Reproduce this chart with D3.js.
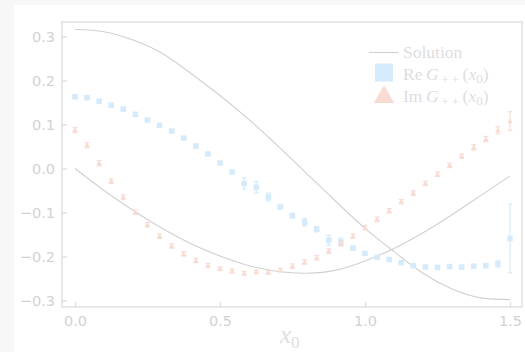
<!DOCTYPE html>
<html>
<head>
<meta charset="utf-8">
<script src="https://cdn.jsdelivr.net/npm/d3@7"></script>
<style>
  html, body { margin: 0; padding: 0; background: #f7f7f7; }
  svg { display: block; }
</style>
</head>
<body>
<div id="chart"></div>
<script>
// Sample positions x0 = 0 .. 1.5 (37 points)
const xs = d3.range(37).map(i => i * 1.5 / 36);

// Re G++(x0) and its errors
const reVals = [0.163, 0.161, 0.153, 0.144, 0.135, 0.123, 0.110, 0.098, 0.085, 0.069,
    0.051, 0.033, 0.0125, -0.008, -0.034, -0.043, -0.065, -0.0875, -0.107, -0.122,
    -0.138, -0.163, -0.167, -0.181, -0.193, -0.202, -0.207, -0.214, -0.221, -0.224,
    -0.225, -0.223, -0.224, -0.222, -0.221, -0.217, -0.159];
const reErr = [0.003, 0.003, 0.003, 0.003, 0.003, 0.003, 0.003, 0.003, 0.003, 0.003,
    0.003, 0.003, 0.003, 0.004, 0.0125, 0.013, 0.009, 0.004, 0.005, 0.009,
    0.006, 0.011, 0.009, 0.004, 0.003, 0.003, 0.003, 0.003, 0.003, 0.003,
    0.003, 0.003, 0.004, 0.003, 0.004, 0.007, 0.078];

// Im G++(x0) and its errors
const imVals = [0.0875, 0.053, 0.012, -0.029, -0.065, -0.0995, -0.128, -0.154, -0.176, -0.194,
    -0.209, -0.220, -0.228, -0.233, -0.238, -0.235, -0.236, -0.231, -0.222, -0.2125,
    -0.203, -0.1875, -0.170, -0.154, -0.1345, -0.1155, -0.096, -0.0755, -0.0557, -0.034,
    -0.013, 0.007, 0.028, 0.048, 0.067, 0.087, 0.108];
const imErr = [0.006, 0.006, 0.006, 0.005, 0.005, 0.005, 0.005, 0.005, 0.005, 0.005,
    0.005, 0.004, 0.004, 0.004, 0.004, 0.004, 0.004, 0.004, 0.005, 0.005,
    0.005, 0.005, 0.005, 0.005, 0.005, 0.005, 0.005, 0.005, 0.005, 0.005,
    0.005, 0.005, 0.005, 0.006, 0.006, 0.008, 0.021];

// Exact solution curves
const solX = [0, 0.1, 0.2, 0.3, 0.4, 0.5, 0.6, 0.7, 0.8, 0.9,
    1.0, 1.1, 1.2, 1.3, 1.4, 1.5];
const solRe = [0.316, 0.311, 0.292, 0.262, 0.216, 0.166, 0.111, 0.051, -0.012, -0.075,
    -0.136, -0.189, -0.238, -0.274, -0.294, -0.298];
const solIm = [0, -0.050, -0.095, -0.136, -0.171, -0.199, -0.221, -0.234, -0.238, -0.231,
    -0.210, -0.182, -0.146, -0.105, -0.061, -0.017];

const xTicks = [0, 0.5, 1.0, 1.5];
const yTicks = [-0.3, -0.2, -0.1, 0.0, 0.1, 0.2, 0.3];

const width = 525, height = 352;
const frame = { left: 62, right: 522, top: 22, bottom: 307 };

const colors = {
    axis: '#dcdcdc',
    tick: '#d2d2d2',
    line: '#d0d0d0',
    re: '#d5ebfb',
    im: '#f8dcd3',
    legend: '#dedede'
};

const svg = d3.select('#chart').append('svg')
    .attr('width', width)
    .attr('height', height);

// white panel
svg.append('rect')
    .attr('x', 14).attr('y', 5)
    .attr('width', width - 14).attr('height', height - 5)
    .attr('fill', '#ffffff');

const x = d3.scaleLinear().domain([-0.0448, 1.5414]).range([frame.left, frame.right]);
const y = d3.scaleLinear().domain([-0.3148, 0.333]).range([frame.bottom, frame.top]);

// Axes with inward ticks
const yAxis = svg.append('g')
    .attr('transform', `translate(${frame.left},0)`)
    .call(d3.axisLeft(y).tickValues(yTicks).tickFormat(d3.format('.1f'))
        .tickSizeInner(-5).tickSizeOuter(0).tickPadding(7));
const xAxis = svg.append('g')
    .attr('transform', `translate(0,${frame.bottom})`)
    .call(d3.axisBottom(x).tickValues(xTicks).tickFormat(d3.format('.1f'))
        .tickSizeInner(-5).tickSizeOuter(0).tickPadding(9));

[yAxis, xAxis].forEach(ax => {
    ax.select('.domain').remove();
    ax.selectAll('.tick line').attr('stroke', colors.axis).attr('stroke-width', 1.2);
    ax.selectAll('.tick text')
        .attr('fill', colors.tick)
        .attr('font-family', 'DejaVu Sans, sans-serif')
        .attr('font-size', '14.5px');
});

// frame
svg.append('rect')
    .attr('x', frame.left).attr('y', frame.top)
    .attr('width', frame.right - frame.left)
    .attr('height', frame.bottom - frame.top)
    .attr('fill', 'none')
    .attr('stroke', colors.axis)
    .attr('stroke-width', 1.3);

// x label
const xl = svg.append('text')
    .attr('x', 280).attr('y', 342.5)
    .attr('fill', colors.legend)
    .attr('font-family', 'Liberation Serif, serif')
    .attr('font-size', '25px');
xl.append('tspan').attr('font-style', 'italic').text('x');
xl.append('tspan').attr('font-size', '17px').attr('dy', 5).text('0');

const plot = svg.append('g');

// Solution lines
const line = d3.line()
    .x(d => x(d[0]))
    .y(d => y(d[1]))
    .curve(d3.curveNatural);

[solRe, solIm].forEach(vals => {
    plot.append('path')
        .datum(solX.map((v, i) => [v, vals[i]]))
        .attr('d', line)
        .attr('fill', 'none')
        .attr('stroke', colors.line)
        .attr('stroke-width', 1.1);
});

// Error bars helper
function errorBars(vals, errs, color, cap) {
    const data = xs.map((v, i) => ({ x: v, y: vals[i], e: errs[i] }));
    const g = plot.append('g').attr('stroke', color).attr('stroke-width', 1.2);
    g.selectAll('line.v').data(data).join('line')
        .attr('class', 'v')
        .attr('x1', d => x(d.x)).attr('x2', d => x(d.x))
        .attr('y1', d => y(d.y - d.e)).attr('y2', d => y(d.y + d.e));
    g.selectAll('line.t').data(data).join('line')
        .attr('class', 't')
        .attr('x1', d => x(d.x) - cap).attr('x2', d => x(d.x) + cap)
        .attr('y1', d => y(d.y + d.e)).attr('y2', d => y(d.y + d.e));
    g.selectAll('line.b').data(data).join('line')
        .attr('class', 'b')
        .attr('x1', d => x(d.x) - cap).attr('x2', d => x(d.x) + cap)
        .attr('y1', d => y(d.y - d.e)).attr('y2', d => y(d.y - d.e));
    return data;
}

const reData = errorBars(reVals, reErr, colors.re, 2.5);
plot.append('g').selectAll('rect').data(reData).join('rect')
    .attr('x', d => x(d.x) - 2.8).attr('y', d => y(d.y) - 2.8)
    .attr('width', 5.6).attr('height', 5.6)
    .attr('fill', colors.re);

const imData = errorBars(imVals, imErr, colors.im, 2.5);
const tri = d3.symbol().type(d3.symbolTriangle).size(14);
plot.append('g').selectAll('path').data(imData).join('path')
    .attr('transform', d => `translate(${x(d.x)},${y(d.y) + 0.5})`)
    .attr('d', tri)
    .attr('fill', colors.im);

// Legend
const legend = svg.append('g')
    .attr('font-family', 'Liberation Serif, serif')
    .attr('font-size', '17.5px')
    .attr('fill', colors.legend);

legend.append('line')
    .attr('x1', 369).attr('x2', 398.5)
    .attr('y1', 52.5).attr('y2', 52.5)
    .attr('stroke', colors.line).attr('stroke-width', 1.1);
legend.append('text').attr('x', 403).attr('y', 57.5).text('Solution');

legend.append('rect')
    .attr('x', 375).attr('y', 63.5).attr('width', 18).attr('height', 18)
    .attr('fill', colors.re);
legend.append('path')
    .attr('transform', 'translate(384,97)')
    .attr('d', d3.symbol().type(d3.symbolTriangle).size(180))
    .attr('fill', colors.im);

function greenLabel(yy, part) {
    const t = legend.append('text').attr('x', 403).attr('y', yy);
    t.append('tspan').text(part + '\u2009');
    t.append('tspan').attr('font-style', 'italic').text('G');
    t.append('tspan').attr('font-size', '13px').attr('dy', 4).text('\u2009+ +');
    t.append('tspan').attr('dy', -4).text('\u2009(');
    t.append('tspan').attr('font-style', 'italic').text('x');
    t.append('tspan').attr('font-size', '13px').attr('dy', 3).text('0');
    t.append('tspan').attr('dy', -3).text(')');
}
greenLabel(79.5, 'Re');
greenLabel(102, 'Im');
</script>
</body>
</html>
